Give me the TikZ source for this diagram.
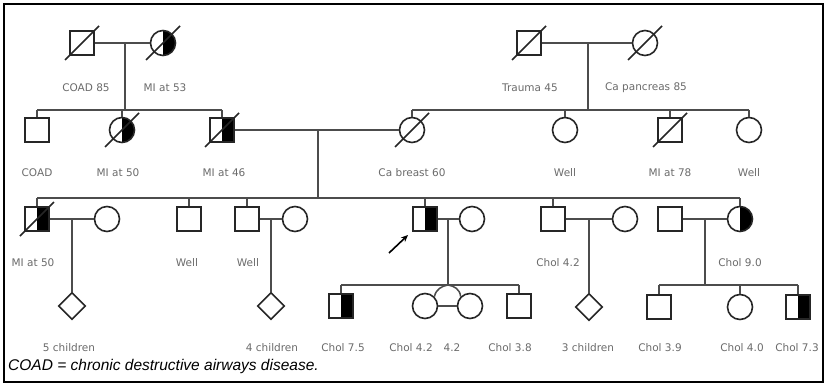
\documentclass[tikz,border=0pt]{standalone}
\usepackage{fontspec}
\setmainfont{Liberation Sans}
\newfontfamily\labfont{DejaVu Sans}
\usetikzlibrary{shapes.geometric,arrows.meta}
\begin{document}
\begin{tikzpicture}[x=1pt,y=-1pt,
  sym/.style={draw=black!85,line width=1.6pt,inner sep=0pt,fill=white},
  sq/.style={sym,rectangle,minimum size=24pt},
  ci/.style={sym,circle,minimum size=25pt},
  di/.style={sym,diamond,minimum size=27pt},
  half/.style={path picture={\fill[black] (path picture bounding box.north) rectangle (path picture bounding box.south east);}},
  ln/.style={draw=black!70,line width=1.5pt},
  slash/.style={draw=black!85,line width=1.5pt},
  lab/.style={font=\labfont\fontsize{10.5}{12}\selectfont,text=black!58,inner sep=0pt},
  captext/.style={font=\fontsize{15.5}{17}\selectfont\itshape,text=black,inner sep=0pt,anchor=west}]
\useasboundingbox (0,0) rectangle (826,385);
\fill[white] (0,0) rectangle (826,385);
\draw[line width=2.5pt] (4,4) rectangle (823,382);

% ---------- Generation I ----------
\node[sq] (f1) at (82,43) {};
\node[ci,half] (m1) at (163,43) {};
\node[sq] (f2) at (529,43) {};
\node[ci] (m2) at (645,43) {};
\draw[ln] (f1) -- (m1);
\draw[ln] (f2) -- (m2);
\coordinate (f1m) at (125,43);
\coordinate (s1) at (125,110);
\coordinate (f2m) at (588,43);
\coordinate (s2) at (588,110);
\draw[ln] (f1m) -- (s1);
\draw[ln] (f2m) -- (s2);

% ---------- Generation II ----------
\node[sq] (a1) at (37,130) {};
\node[ci,half] (a2) at (122,130) {};
\node[sq,half] (a3) at (222,130) {};
\node[ci] (b1) at (412,130) {};
\node[ci] (b2) at (565,130) {};
\node[sq] (b3) at (670,130) {};
\node[ci] (b4) at (749,130) {};
\draw[ln] (a1.north |- s1) -- (a3.north |- s1);
\foreach \n in {a1,a2,a3} \draw[ln] (\n.north |- s1) -- (\n.north);
\draw[ln] (b1.north |- s2) -- (b4.north |- s2);
\foreach \n in {b1,b2,b3,b4} \draw[ln] (\n.north |- s2) -- (\n.north);
\draw[ln] (a3) -- (b1);
\coordinate (a3m) at (318,130);
\coordinate (s3) at (318,198);
\draw[ln] (a3m) -- (s3);

% ---------- Generation III ----------
\node[sq,half] (c1) at (37,219) {};
\node[ci] (c1w) at (107,219) {};
\node[sq] (c2) at (189,219) {};
\node[sq] (c3) at (247,219) {};
\node[ci] (c3w) at (295,219) {};
\node[sq,half] (p) at (425,219) {};
\node[ci] (pw) at (472,219) {};
\node[sq] (c5) at (553,219) {};
\node[ci] (c5w) at (625,219) {};
\node[sq] (c6h) at (670,219) {};
\node[ci,half] (c6) at (740,219) {};
\draw[ln] (c1.north |- s3) -- (c6.north |- s3);
\foreach \n in {c1,c2,c3,p,c5,c6} \draw[ln] (\n.north |- s3) -- (\n.north);
\draw[ln] (c1) -- (c1w);
\draw[ln] (c3) -- (c3w);
\draw[ln] (p) -- (pw);
\draw[ln] (c5) -- (c5w);
\draw[ln] (c6h) -- (c6);

% ---------- Generation IV ----------
\node[di] (d1) at (72,306) {};
\node[di] (d2) at (271,306) {};
\node[di] (d3) at (589,307) {};
\coordinate (c1m) at (72,219);
\coordinate (c3m) at (271,219);
\coordinate (c5m) at (589,219);
\draw[ln] (c1m) -- (d1);
\draw[ln] (c3m) -- (d2);
\draw[ln] (c5m) -- (d3);

\node[sq,half] (g1) at (341,306) {};
\node[ci] (t1) at (425,306) {};
\node[ci] (t2) at (470,306) {};
\node[sq] (g4) at (519,306) {};
\coordinate (pm) at (448,219);
\coordinate (s4) at (448,285);
\draw[ln] (pm) -- (s4);
\draw[ln] (g1.north |- s4) -- (g4.north |- s4);
\draw[ln] (g1.north |- s4) -- (g1.north);
\draw[ln] (g4.north |- s4) -- (g4.north);
\draw[ln] (s4) .. controls (442,286) and (436,289) .. (t1.north east);
\draw[ln] (s4) .. controls (454,286) and (460,289) .. (t2.north west);
\draw[ln] (t1) -- (t2);

\node[sq] (h1) at (659,307) {};
\node[ci] (h2) at (740,307) {};
\node[sq,half] (h3) at (798,307) {};
\coordinate (c6m) at (705,219);
\coordinate (s5) at (705,285);
\draw[ln] (c6m) -- (s5);
\draw[ln] (h1.north |- s5) -- (h3.north |- s5);
\foreach \n in {h1,h2,h3} \draw[ln] (\n.north |- s5) -- (\n.north);

% ---------- deceased slashes ----------
\foreach \n in {f1,m1,f2,m2,a2,a3,b1,b3,c1}
  \draw[slash] (\n.center) ++(-17,17) -- ++(34,-34);

% ---------- proband arrow ----------
\coordinate (ar1) at (389,253);
\coordinate (ar2) at (408,235);
\draw[line width=1.6pt,-{Stealth[length=7pt,width=6pt]}] (ar1) -- (ar2);

% ---------- labels ----------
\node[lab] (l1) at (86,88) {COAD 85};
\node[lab] (l2) at (165,88) {MI at 53};
\node[lab] (l3) at (530,88) {Trauma 45};
\node[lab] (l4) at (646,88) {Ca pancreas 85};

\node[lab] (l5) at (37,173) {COAD};
\node[lab] (l6) at (118,173) {MI at 50};
\node[lab] (l7) at (224,173) {MI at 46};
\node[lab] (l8) at (412,173) {Ca breast 60};
\node[lab] (l9) at (565,173) {Well};
\node[lab] (l10) at (670,173) {MI at 78};
\node[lab] (l11) at (749,173) {Well};

\node[lab] (l12) at (33,263) {MI at 50};
\node[lab] (l13) at (187,263) {Well};
\node[lab] (l14) at (248,263) {Well};
\node[lab] (l15) at (558,263) {Chol 4.2};
\node[lab] (l16) at (740,263) {Chol 9.0};

\node[lab] (l17) at (69,348) {5 children};
\node[lab] (l18) at (272,348) {4 children};
\node[lab] (l19) at (343,348) {Chol 7.5};
\node[lab] (l20) at (411,348) {Chol 4.2};
\node[lab] (l21) at (452,348) {4.2};
\node[lab] (l22) at (510,348) {Chol 3.8};
\node[lab] (l23) at (588,348) {3 children};
\node[lab] (l24) at (660,348) {Chol 3.9};
\node[lab] (l25) at (742,348) {Chol 4.0};
\node[lab] (l26) at (797,348) {Chol 7.3};

\node[captext] (cap) at (8,366) {COAD = chronic destructive airways disease.};
\end{tikzpicture}
\end{document}
